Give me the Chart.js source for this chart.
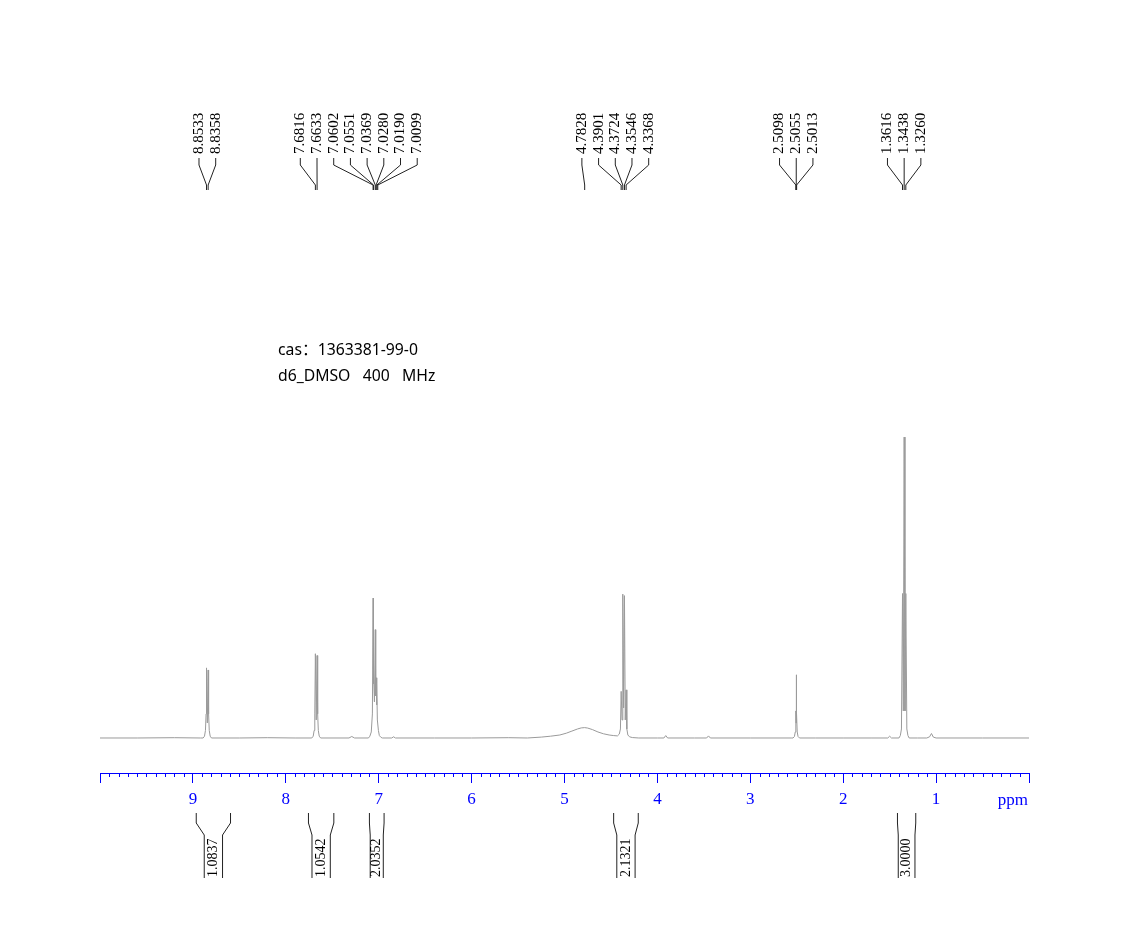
<!DOCTYPE html>
<html>
<head>
<meta charset="utf-8">
<script src="https://cdn.jsdelivr.net/npm/chart.js@4.4.0/dist/chart.umd.min.js"></script>
<style>
  html, body { margin: 0; padding: 0; background: #fff; }
  canvas { display: block; }
</style>
</head>
<body>
<canvas id="nmr" width="1132" height="947"></canvas>
<script>
// ---------- spectrum trace: [ppm, intensity] vertices ----------
const baseHigh = [[10.0, 0], [9.6, 0], [9.2, 0.1], [8.92, 0]];
const peaks885 = [[8.89, 0], [8.875, 0.6], [8.865, 2.5], [8.858, 8], [8.8533, 23.3], [8.845, 5],
                  [8.8358, 22.6], [8.831, 8], [8.824, 2.5], [8.814, 0.6], [8.80, 0]];
const base800 = [[8.5, 0], [8.2, 0.1], [7.9, 0], [7.72, 0]];
const peaks767 = [[7.705, 0.6], [7.695, 2.5], [7.688, 8], [7.6816, 28], [7.6725, 6], [7.6633, 27.4],
                  [7.657, 8], [7.650, 2.5], [7.640, 0.6], [7.625, 0]];
const base730 = [[7.32, 0], [7.29, 0.5], [7.26, 0], [7.11, 0]];
const peaks703 = [[7.095, 0.6], [7.080, 2], [7.068, 8], [7.0602, 46.5], [7.0575, 18], [7.0551, 22],
                  [7.046, 12], [7.0369, 36], [7.032, 14], [7.0280, 20], [7.023, 11], [7.0190, 18],
                  [7.0145, 6], [7.0099, 6], [7.003, 2.5], [6.993, 0.8], [6.975, 0.2], [6.96, 0]];
const base650 = [[6.86, 0], [6.84, 0.4], [6.82, 0], [6.4, 0], [6.0, 0], [5.6, 0.1], [5.4, 0]];
const hump478 = [[5.25, 0.3], [5.15, 0.6], [5.05, 1.0], [4.98, 1.6], [4.92, 2.3], [4.86, 3.0],
                 [4.82, 3.35], [4.7828, 3.45], [4.75, 3.3], [4.70, 2.8], [4.64, 2.0], [4.58, 1.4],
                 [4.52, 1.0], [4.47, 0.8], [4.43, 0.7]];
const peaks436 = [[4.41, 1.3], [4.398, 3], [4.3901, 15.5], [4.381, 6], [4.3724, 47.8], [4.3635, 10],
                  [4.3546, 47.3], [4.346, 6], [4.3368, 16], [4.329, 3], [4.318, 1], [4.30, 0.4],
                  [4.27, 0.15], [4.20, 0]];
const base350 = [[4.0, 0], [3.93, 0], [3.91, 0.8], [3.89, 0], [3.6, 0], [3.47, 0], [3.45, 0.7],
                 [3.43, 0], [3.0, 0], [2.56, 0]];
const peaks250 = [[2.54, 0], [2.525, 0.5], [2.516, 2], [2.5098, 9], [2.5077, 5], [2.5055, 21],
                  [2.5034, 5], [2.5013, 9], [2.495, 2], [2.486, 0.5], [2.47, 0]];
const base200 = [[2.3, 0], [2.0, 0], [1.7, 0], [1.52, 0], [1.50, 0.6], [1.48, 0], [1.40, 0]];
const peaks134 = [[1.385, 0.8], [1.373, 3], [1.3616, 48], [1.353, 9], [1.3438, 100], [1.335, 9],
                  [1.3260, 48], [1.315, 3], [1.303, 0.8], [1.29, 0]];
const baseLow = [[1.2, 0], [1.1, 0], [1.07, 0.4], [1.05, 1.5], [1.03, 0.3], [1.0, 0], [0.5, 0], [0.0, 0]];

// ---------- peak picking labels, one list per multiplet ----------
const peakGroups = [
  ['8.8533', '8.8358'],
  ['7.6816', '7.6633'],
  ['7.0602', '7.0551', '7.0369', '7.0280', '7.0190', '7.0099'],
  ['4.7828'],
  ['4.3901', '4.3724', '4.3546', '4.3368'],
  ['2.5098', '2.5055', '2.5013'],
  ['1.3616', '1.3438', '1.3260']
];

// ---------- integrals ----------
const integralFrom = [8.964, 7.756, 7.100, 4.471, 1.416];
const integralTo = [8.595, 7.483, 6.942, 4.206, 1.219];
const integralValues = ['1.0837', '1.0542', '2.0352', '2.1321', '3.0000'];

// ---------- axis ----------
const axisMin = 0;
const axisMax = 10;
const infoLines = ['cas：1363381-99-0', 'd6_DMSO   400   MHz'];

const spectrum = [].concat(baseHigh, peaks885, base800, peaks767, base730, peaks703, base650,
  hump478, peaks436, base350, peaks250, base200, peaks134, baseLow)
  .map(p => ({ x: p[0], y: p[1] }));

const blue = '#0000ff';

const nmrAnnotations = {
  id: 'nmrAnnotations',
  afterDraw(chart) {
    const { ctx, chartArea } = chart;
    const x = chart.scales.x;
    ctx.save();

    // minor ticks every 0.1 ppm
    ctx.strokeStyle = blue;
    ctx.lineWidth = 1;
    ctx.beginPath();
    for (let i = 1; i < (axisMax - axisMin) * 10; i++) {
      if (i % 10 === 0) continue;
      const px = Math.round(x.getPixelForValue(axisMin + i / 10)) + 0.5;
      ctx.moveTo(px, chartArea.bottom);
      ctx.lineTo(px, chartArea.bottom + 4);
    }
    ctx.stroke();

    // unit label
    ctx.fillStyle = blue;
    ctx.font = '17px "Liberation Serif"';
    ctx.textAlign = 'right';
    ctx.textBaseline = 'alphabetic';
    ctx.fillText('ppm', x.getPixelForValue(axisMin) - 1, 805);

    // sample info
    ctx.fillStyle = '#000';
    ctx.font = '15.75px "Noto Sans", "Noto Sans CJK SC"';
    ctx.textAlign = 'left';
    ctx.fillText(infoLines[0], 278, 355);
    ctx.fillText(infoLines[1], 278, 381);

    // peak labels
    const gap = 16.7;
    const groups = peakGroups.map(g => {
      const px = g.map(v => x.getPixelForValue(parseFloat(v)));
      const c = px.reduce((a, b) => a + b, 0) / px.length;
      return { labels: g, px, start: c - (g.length - 1) * gap / 2 };
    });
    for (let i = groups.length - 2; i >= 0; i--) {
      const g = groups[i], n = groups[i + 1];
      const end = g.start + (g.labels.length - 1) * gap;
      if (end > n.start - gap) g.start -= end - (n.start - gap);
    }
    ctx.font = '15px "Liberation Serif"';
    ctx.strokeStyle = '#222';
    ctx.lineWidth = 1;
    groups.forEach(g => {
      g.labels.forEach((t, j) => {
        const lx = g.start + j * gap;
        const px = g.px[j];
        ctx.save();
        ctx.translate(lx, 154);
        ctx.rotate(-Math.PI / 2);
        ctx.textAlign = 'left';
        ctx.textBaseline = 'middle';
        ctx.fillStyle = '#000';
        ctx.fillText(t, 0, 0);
        ctx.restore();
        ctx.beginPath();
        ctx.moveTo(lx, 158);
        ctx.lineTo(lx, 165);
        ctx.lineTo(px, 185);
        ctx.lineTo(px, 190);
        ctx.stroke();
      });
    });

    // integral brackets
    ctx.font = '14px "Liberation Serif"';
    integralValues.forEach((val, i) => {
      const x1 = x.getPixelForValue(integralFrom[i]);
      const x2 = x.getPixelForValue(integralTo[i]);
      const c = (x1 + x2) / 2;
      const w = Math.min(x2 - x1 - 1.6, 18.3);
      ctx.beginPath();
      ctx.moveTo(x1, 813); ctx.lineTo(x1, 823); ctx.lineTo(c - w / 2, 835); ctx.lineTo(c - w / 2, 878);
      ctx.moveTo(x2, 813); ctx.lineTo(x2, 823); ctx.lineTo(c + w / 2, 835); ctx.lineTo(c + w / 2, 878);
      ctx.stroke();
      ctx.save();
      ctx.translate(c, 877);
      ctx.rotate(-Math.PI / 2);
      ctx.textAlign = 'left';
      ctx.textBaseline = 'middle';
      ctx.fillStyle = '#000';
      ctx.fillText(val, 0, 0);
      ctx.restore();
    });

    ctx.restore();
  }
};

new Chart(document.getElementById('nmr').getContext('2d'), {
  type: 'line',
  data: {
    datasets: [{
      data: spectrum,
      borderColor: '#9a9a9a',
      borderWidth: 1,
      pointRadius: 0,
      tension: 0
    }]
  },
  options: {
    responsive: false,
    animation: false,
    events: [],
    layout: { padding: { left: 100, right: 103, top: 422, bottom: 114 } },
    plugins: { legend: { display: false }, tooltip: { enabled: false } },
    scales: {
      x: {
        type: 'linear',
        reverse: true,
        min: axisMin,
        max: axisMax,
        afterFit: (scale) => { scale.height = 60; },
        border: { display: true, color: blue, width: 1 },
        grid: { drawOnChartArea: false, drawTicks: true, tickLength: 10, color: blue },
        ticks: {
          stepSize: 1,
          padding: 6,
          color: blue,
          font: { family: 'Liberation Serif', size: 17 },
          maxRotation: 0,
          autoSkip: false,
          callback: (v) => (v === axisMin || v === axisMax) ? '' : String(v)
        }
      },
      y: {
        display: false,
        min: -11.63,
        max: 105
      }
    }
  },
  plugins: [nmrAnnotations]
});
</script>
</body>
</html>
